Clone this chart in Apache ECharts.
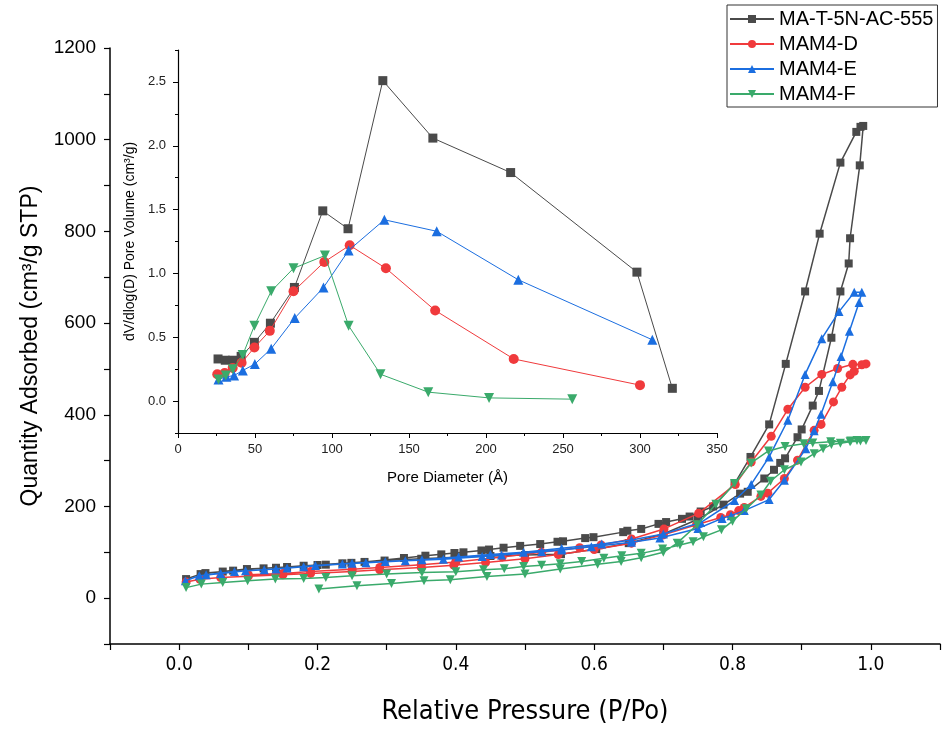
<!DOCTYPE html>
<html>
<head>
<meta charset="utf-8">
<script src="https://cdn.jsdelivr.net/npm/echarts@6/dist/echarts.min.js"></script>
<style>html,body{margin:0;padding:0;background:#fff}#c{width:943px;height:730px}</style>
</head>
<body>
<div id="c"></div>
<script>
// ---- Data ----
const names = ['MA-T-5N-AC-555', 'MAM4-D', 'MAM4-E', 'MAM4-F'];
const colors = ['#4a4a4a', '#f03a3c', '#1b6ee0', '#3aaa6b'];
const symbols = ['rect', 'circle', 'triangle', 'triangle'];

// Isotherms: [P/Po, Quantity adsorbed]
const blackAds = [[0.010,41.6],[0.031,52.5],[0.063,58],[0.098,63.5],[0.140,66.3],[0.180,70.7],[0.212,73],[0.249,77],[0.297,82],[0.350,86],[0.400,89],[0.450,92],[0.500,94],[0.552,96],[0.603,107],[0.650,120],[0.700,140],[0.750,172],[0.787,204],[0.811,228],[0.822,232],[0.846,261],[0.860,280],[0.869,295],[0.876,305],[0.894,351],[0.900,368],[0.916,420],[0.925,452],[0.943,568],[0.956,669],[0.968,730],[0.970,785],[0.984,944],[0.989,1030]];
const blackDes = [[0.985,1028],[0.979,1017],[0.956,950],[0.926,795],[0.905,669],[0.877,511],[0.853,379],[0.826,308],[0.803,250],[0.772,200],[0.754,189],[0.738,178],[0.727,173],[0.704,166],[0.693,162],[0.668,151],[0.648,147],[0.642,144],[0.599,133],[0.587,131],[0.555,124],[0.547,123],[0.522,118],[0.493,114],[0.469,110],[0.448,106],[0.437,104],[0.411,100],[0.398,98.5],[0.379,95.5],[0.356,92.6],[0.325,87.6],[0.268,79],[0.236,76],[0.200,72.3],[0.156,68],[0.122,65],[0.078,60],[0.038,54.7]];
const redAds = [[0.010,35],[0.030,41],[0.060,45],[0.100,48],[0.150,51],[0.190,54],[0.250,58],[0.290,62],[0.350,67],[0.397,72],[0.443,78],[0.500,86],[0.548,95],[0.600,106],[0.654,120],[0.700,138],[0.748,160],[0.783,176],[0.797,182],[0.809,191],[0.817,198],[0.841,222],[0.851,229],[0.875,261],[0.894,301],[0.918,366],[0.928,379],[0.946,428],[0.958,460],[0.970,487],[0.976,495],[0.993,511]];
const redDes = [[0.987,509],[0.974,510],[0.952,501],[0.929,488],[0.905,460],[0.880,412],[0.856,353],[0.827,297],[0.804,248],[0.751,185],[0.701,151],[0.654,129],[0.610,116],[0.579,110],[0.524,100],[0.467,90],[0.400,79],[0.350,73],[0.290,67],[0.250,63],[0.190,58],[0.150,54],[0.100,51]];
const blueAds = [[0.009,38],[0.029,49],[0.060,54],[0.096,60],[0.140,63.5],[0.180,68.5],[0.236,74.4],[0.270,77.3],[0.327,81.7],[0.382,85],[0.438,91],[0.466,94],[0.524,101],[0.553,105],[0.596,112],[0.654,122],[0.695,131],[0.750,152],[0.785,174],[0.798,180],[0.817,191],[0.853,215],[0.875,257],[0.906,326],[0.918,365],[0.928,401],[0.945,472],[0.957,527],[0.969,582],[0.983,645],[0.987,667]];
const blueDes = [[0.976,667],[0.954,625],[0.929,566],[0.905,488],[0.880,388],[0.853,308],[0.827,248],[0.803,213],[0.754,165],[0.700,140],[0.654,127],[0.611,118],[0.553,109],[0.498,100],[0.450,95],[0.404,90],[0.351,84],[0.298,80],[0.250,76],[0.197,71],[0.156,66],[0.123,62],[0.080,58],[0.039,51]];
const greenAds = [[0.010,23],[0.032,30.6],[0.063,34],[0.099,38],[0.139,41.6],[0.180,43],[0.212,45],[0.250,48.8],[0.300,52.5],[0.351,56],[0.400,57.6],[0.440,62],[0.470,64],[0.498,69],[0.524,72],[0.551,75],[0.582,80],[0.614,87],[0.640,92.6],[0.668,97.7],[0.699,107],[0.724,116],[0.743,123],[0.758,134],[0.784,149],[0.800,168],[0.820,195],[0.841,225],[0.855,255],[0.875,280],[0.899,297],[0.918,315],[0.931,326],[0.943,335],[0.956,338],[0.970,341],[0.985,343],[0.993,344]];
const greenDes = [[0.980,344],[0.971,343],[0.942,341],[0.916,338.5],[0.903,337],[0.876,331],[0.852,321],[0.827,295],[0.803,250],[0.776,205],[0.749,160],[0.720,120],[0.700,100],[0.668,88],[0.639,80],[0.605,74],[0.551,63.5],[0.500,52.5],[0.445,47],[0.392,40],[0.354,38],[0.307,32],[0.257,27],[0.202,20]];

// Inset pore size distribution: [Pore diameter (Å), dV/dlog(D)]
const blackPSD = [[26,0.33],[30.7,0.32],[35.4,0.32],[41,0.35],[49.6,0.46],[60,0.61],[75.6,0.89],[94,1.49],[110.4,1.35],[133,2.51],[165.5,2.06],[216,1.79],[298,1.01],[321,0.10]];
const redPSD = [[25.5,0.21],[30.3,0.22],[35.5,0.26],[41.3,0.30],[49.6,0.42],[59.6,0.55],[75,0.86],[95,1.09],[111.5,1.22],[135,1.04],[167,0.71],[218,0.33],[300,0.125]];
const bluePSD = [[26.3,0.17],[31.4,0.19],[36.4,0.20],[42.1,0.24],[49.9,0.29],[60.5,0.41],[75.8,0.65],[94.5,0.89],[110.8,1.18],[134,1.42],[168,1.33],[221,0.95],[308,0.48]];
const greenPSD = [[26.3,0.17],[31,0.20],[35.6,0.25],[42,0.36],[49.6,0.59],[60.5,0.86],[75,1.04],[95.4,1.14],[110.8,0.59],[131.5,0.21],[162.5,0.07],[202,0.025],[256,0.015]];

const insetYLabels = [0, 0.5, 1.0, 1.5, 2.0, 2.5];

// ---- Chart ----
const isoData = [blackAds.concat(blackDes), redAds.concat(redDes), blueAds.concat(blueDes), greenAds.concat(greenDes)];
const psdData = [blackPSD, redPSD, bluePSD, greenPSD];
const FONT = "'Liberation Sans', Arial, sans-serif";
const NARROW = "'Liberation Sans Narrow', 'Arial Narrow', 'DejaVu Sans Condensed', sans-serif";

const series = [];
names.forEach((n, i) => {
  series.push({
    name: n, type: 'line', xAxisIndex: 0, yAxisIndex: 0, data: isoData[i],
    symbol: symbols[i], symbolSize: i === 0 ? 8 : 9, symbolRotate: i === 3 ? 180 : 0,
    lineStyle: { color: colors[i], width: 1.5 }, itemStyle: { color: colors[i] },
    showAllSymbol: true, animation: false, z: 2 + i
  });
});
names.forEach((n, i) => {
  series.push({
    name: n, type: 'line', xAxisIndex: 1, yAxisIndex: 1, data: psdData[i],
    symbol: symbols[i], symbolSize: i === 0 ? 9 : 10, symbolRotate: i === 3 ? 180 : 0,
    lineStyle: { color: colors[i], width: 1 }, itemStyle: { color: colors[i] },
    showAllSymbol: true, animation: false, z: 2 + i
  });
});

const mainLine = { show: true, onZero: false, lineStyle: { color: '#000', width: 1.5 } };
const insetLine = { show: true, onZero: false, lineStyle: { color: '#000', width: 1.2 } };
const noLine = { show: false, onZero: false };

const option = {
  backgroundColor: '#fff',
  animation: false,
  legend: {
    data: names, orient: 'vertical', left: 727, top: 5,
    itemWidth: 44, itemHeight: 10, itemGap: 5,
    padding: [4, 4, 3, 2],
    borderColor: '#333', borderWidth: 1,
    textStyle: { fontSize: 20, lineHeight: 20, color: '#000', fontFamily: FONT }
  },
  grid: [
    { left: 110, right: 0, top: 48, bottom: 86 },
    { left: 178, right: 226, top: 50, height: 383 }
  ],
  xAxis: [
    {
      type: 'value', gridIndex: 0, position: 'bottom', min: -0.1, max: 1.1, interval: 0.1,
      axisLine: mainLine, splitLine: { show: false },
      axisTick: { inside: false, length: 6, lineStyle: { color: '#000', width: 1.2 } },
      axisLabel: { margin: 12, fontSize: 19, color: '#000', fontFamily: NARROW,
        formatter: v => { const k = Math.round(v * 10); return (k >= 0 && k % 2 === 0) ? (k / 10).toFixed(1) : ''; } },
      name: 'Relative Pressure (P/Po)', nameLocation: 'middle', nameGap: 54,
      nameTextStyle: { fontSize: 27, color: '#000', fontFamily: NARROW }
    },
    {
      type: 'value', gridIndex: 1, position: 'bottom', min: 0, max: 350, interval: 50,
      axisLine: insetLine, splitLine: { show: false },
      axisTick: { length: 5, lineStyle: { color: '#000' } },
      axisLabel: { margin: 10, fontSize: 13, color: '#222', fontFamily: FONT },
      name: 'Pore Diameter (Å)', nameLocation: 'middle', nameGap: 37,
      nameTextStyle: { fontSize: 15, color: '#000', fontFamily: FONT }
    },
    {
      type: 'value', gridIndex: 1, position: 'bottom', min: 0, max: 350, interval: 25,
      axisLine: noLine, splitLine: { show: false },
      axisTick: { length: 3, lineStyle: { color: '#000' } },
      axisLabel: { show: false }
    }
  ],
  yAxis: [
    {
      type: 'value', gridIndex: 0, position: 'left', min: -100, max: 1200, interval: 100,
      axisLine: mainLine, splitLine: { show: false },
      axisTick: { length: 6, lineStyle: { color: '#000', width: 1.2 } },
      axisLabel: { margin: 14, fontSize: 19, color: '#000', fontFamily: FONT,
        formatter: v => (v >= 0 && Math.round(v) % 200 === 0) ? String(Math.round(v)) : '' },
      name: 'Quantity Adsorbed (cm³/g STP)', nameLocation: 'middle', nameGap: 68,
      nameTextStyle: { fontSize: 23, color: '#000', fontFamily: FONT }
    },
    {
      type: 'value', gridIndex: 1, position: 'left', min: -0.25, max: 2.75,
      axisLine: insetLine, splitLine: { show: false },
      axisTick: { length: 5, customValues: insetYLabels, lineStyle: { color: '#000' } },
      axisLabel: { margin: 12, fontSize: 13, color: '#222', fontFamily: FONT,
        customValues: insetYLabels, formatter: v => Number(v).toFixed(1) },
      name: 'dV/dlog(D) Pore Volume (cm³/g)', nameLocation: 'middle', nameGap: 36,
      nameTextStyle: { fontSize: 14, color: '#000', fontFamily: FONT }
    },
    {
      type: 'value', gridIndex: 1, position: 'left', min: -0.25, max: 2.75, interval: 0.25,
      axisLine: noLine, splitLine: { show: false },
      axisTick: { length: 3, lineStyle: { color: '#000' } },
      axisLabel: { show: false }
    }
  ],
  series: series
};

const chart = echarts.init(document.getElementById('c'), null, { renderer: 'canvas' });
chart.setOption(option);
</script>
</body>
</html>
